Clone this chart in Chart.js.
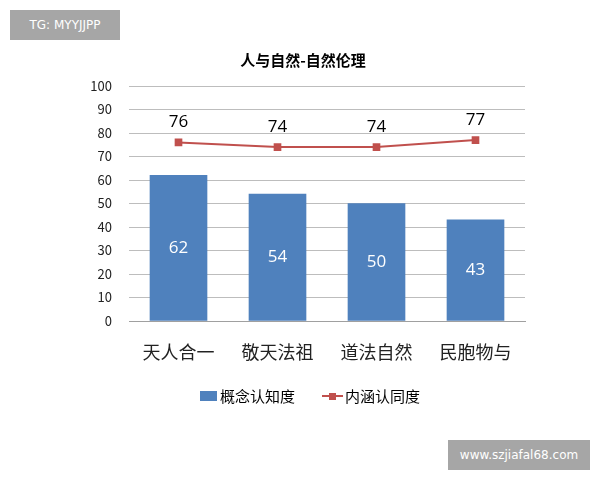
<!DOCTYPE html>
<html><head><meta charset="utf-8">
<script src="https://cdn.jsdelivr.net/npm/chart.js@4"></script>
<style>
html,body{margin:0;padding:0;background:#fff;}
#wrap{position:relative;width:600px;height:480px;}
canvas{position:absolute;left:0;top:0;}
.wm{position:absolute;background:#a6a6a6;color:#fff;font-family:"DejaVu Sans",sans-serif;font-size:12px;display:flex;align-items:center;justify-content:center;}
</style></head>
<body><div id="wrap"><canvas id="c" width="600" height="480"></canvas>
<div class="wm" style="left:10px;top:10px;width:110px;height:30px;">TG: MYYJJPP</div>
<div class="wm" style="left:448px;top:440px;width:142px;height:30px;">www.szjiafal68.com</div>
</div>
<script>
const categories = ["天人合一","敬天法祖","道法自然","民胞物与"];
const conceptValues = [62,54,50,43];
const connotationValues = [76,74,74,77];
const seriesNames = ["概念认知度","内涵认同度"];
const titleText = "人与自然-自然伦理";
const FONT = '"Noto Sans CJK SC","Noto Sans",sans-serif';
const BLUE = "#4F81BD", RED = "#C0504D";

const overlay = {
  id:"overlay",
  afterDraw(chart){
    const ctx = chart.ctx;
    ctx.save();
    // title
    ctx.fillStyle="#000";
    ctx.font = 'bold 15px '+FONT;
    ctx.textAlign="center"; ctx.textBaseline="middle";
    ctx.fillText(titleText, 303, 60);
    // bar labels
    const bm = chart.getDatasetMeta(1);
    ctx.font = '17px "Open Sans",'+FONT; ctx.fillStyle="#fff";
    bm.data.forEach((el,i)=>{
      const y = (el.y + el.base)/2;
      ctx.fillText(String(conceptValues[i]), el.x, y);
    });
    const lm = chart.getDatasetMeta(0);
    ctx.fillStyle="#000";
    lm.data.forEach((el,i)=>{
      ctx.fillText(String(connotationValues[i]), el.x, el.y-20);
    });
    // legend
    ctx.font='15px '+FONT; ctx.textAlign="left";
    ctx.fillStyle=BLUE; ctx.fillRect(200,391,17,10);
    ctx.fillStyle="#000"; ctx.fillText(seriesNames[0],220,396);
    ctx.strokeStyle=RED; ctx.lineWidth=2;
    ctx.beginPath(); ctx.moveTo(322,396); ctx.lineTo(343,396); ctx.stroke();
    ctx.fillStyle=RED; ctx.fillRect(329,393,7,7);
    ctx.fillStyle="#000"; ctx.fillText(seriesNames[1],345,396);
    ctx.restore();
  }
};

new Chart(document.getElementById("c"),{
  data:{
    labels:categories,
    datasets:[
      {type:"line",label:seriesNames[1],data:connotationValues,borderColor:RED,backgroundColor:RED,borderWidth:2,pointStyle:"rect",pointRadius:4,pointHoverRadius:4,order:0},
      {type:"bar",label:seriesNames[0],data:conceptValues,backgroundColor:BLUE,barThickness:57,order:1}
    ]
  },
  options:{
    responsive:false,animation:false,
    layout:{padding:{left:0,right:75,top:86,bottom:0}},
    plugins:{legend:{display:false},title:{display:false},tooltip:{enabled:false}},
    scales:{
      x:{grid:{display:false,drawTicks:false},border:{display:true,color:"#a0a0a0",width:1},
         ticks:{font:{family:FONT,size:18},color:"#222",padding:20},
         afterFit(s){s.height=159;}},
      y:{min:0,max:100,grid:{color:"#bdbdbd",drawTicks:false},border:{display:false},
         ticks:{stepSize:10,font:{family:FONT,size:13},color:"#222",padding:17},
         afterFit(s){s.width=129;}}
    }
  },
  plugins:[overlay]
});
</script></body></html>
